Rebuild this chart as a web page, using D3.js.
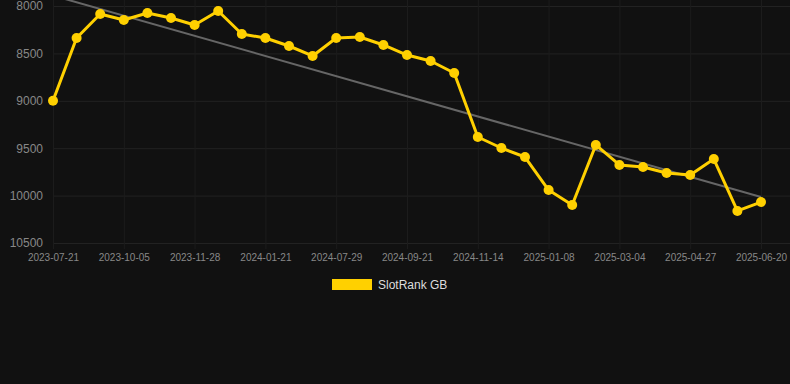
<!DOCTYPE html>
<html lang="en">
<head>
<meta charset="utf-8">
<title>SlotRank GB</title>
<script src="https://d3js.org/d3.v7.min.js"></script>
<style>
	body { margin: 0; background: #111111; }
	svg { display: block; }
</style>
</head>
<body>
<div id="chart"></div>
<script type="text/javascript">
	// data
	var dates = ['2023-07-21','2023-08-16','2023-09-10','2023-10-05','2023-10-23','2023-11-10','2023-11-28','2023-12-16','2024-01-03','2024-01-21',
		'2024-03-15','2024-05-20','2024-07-29','2024-08-15','2024-09-03','2024-09-21','2024-10-08','2024-10-27','2024-11-14','2024-12-02',
		'2024-12-20','2025-01-08','2025-01-26','2025-02-15','2025-03-04','2025-03-22','2025-04-09','2025-04-27','2025-05-15','2025-06-02','2025-06-20'];
	var ranks = [9000, 8338, 8084, 8148, 8074, 8127, 8200, 8053, 8295, 8338,
		8422, 8527, 8338, 8327, 8411, 8517, 8580, 8707, 9382, 9498,
		9593, 9941, 10099, 9466, 9677, 9698, 9762, 9783, 9614, 10162, 10068];
	var trend = [7890, 10015];
	var y_ticks = [8000, 8500, 9000, 9500, 10000, 10500];
	var series_name = 'SlotRank GB';

	var W = 790, H = 384;
	var margin = {top: 6, right: 29, bottom: 141, left: 53},
		width = W - margin.left - margin.right,
		height = H - margin.top - margin.bottom;

	var svg = d3.select('#chart').append('svg')
		.attr('width', W)
		.attr('height', H)
		.style('background', '#111111');

	var g = svg.append('g')
		.attr('transform', 'translate(' + margin.left + ',' + margin.top + ')');

	var x = d3.scalePoint()
		.domain(dates)
		.range([0, width]);
	var y = d3.scaleLinear()
		.domain([8000, 10500])
		.range([0, height]);

	var label_dates = dates.filter(function(d, i) { return i % 3 == 0; });

	// grid
	g.append('g').selectAll('line')
		.data(y_ticks)
		.enter().append('line')
		.attr('x1', 0).attr('x2', W - margin.left)
		.attr('y1', function(d) { return y(d) + 0.5; })
		.attr('y2', function(d) { return y(d) + 0.5; })
		.attr('stroke', '#222222').attr('stroke-width', 1);
	g.append('g').selectAll('line')
		.data(label_dates)
		.enter().append('line')
		.attr('x1', function(d) { return x(d) + 0.5; })
		.attr('x2', function(d) { return x(d) + 0.5; })
		.attr('y1', -margin.top).attr('y2', height)
		.attr('stroke', '#1c1c1c').attr('stroke-width', 1);

	// axes
	var yAxis = g.append('g')
		.call(d3.axisLeft(y).tickValues(y_ticks).tickSize(0).tickPadding(10).tickFormat(d3.format('d')));
	yAxis.select('.domain').remove();
	yAxis.selectAll('text')
		.attr('fill', '#888888')
		.style('font-family', 'Liberation Sans, Arial, sans-serif')
		.style('font-size', '12px');

	var xAxis = g.append('g')
		.attr('transform', 'translate(0,' + height + ')')
		.call(d3.axisBottom(x).tickValues(label_dates).tickSize(6).tickPadding(5));
	xAxis.select('.domain').remove();
	xAxis.selectAll('line').attr('stroke', '#1c1c1c');
	xAxis.selectAll('text')
		.attr('fill', '#888888')
		.style('font-family', 'Liberation Sans, Arial, sans-serif')
		.style('font-size', '10px');

	// trend line
	g.append('line')
		.attr('x1', x(dates[0])).attr('y1', y(trend[0]))
		.attr('x2', x(dates[dates.length - 1])).attr('y2', y(trend[1]))
		.attr('stroke', '#666666').attr('stroke-width', 2);

	// series
	var line = d3.line()
		.x(function(d, i) { return x(dates[i]); })
		.y(function(d) { return y(d); });
	g.append('path')
		.datum(ranks)
		.attr('fill', 'none')
		.attr('stroke', '#ffd000')
		.attr('stroke-width', 3)
		.attr('stroke-linejoin', 'round')
		.attr('d', line);
	g.append('g').selectAll('circle')
		.data(ranks)
		.enter().append('circle')
		.attr('cx', function(d, i) { return x(dates[i]); })
		.attr('cy', function(d) { return y(d); })
		.attr('r', 5)
		.attr('fill', '#ffd000');

	// legend
	var legend = svg.append('g').attr('transform', 'translate(332,279)');
	legend.append('rect')
		.attr('width', 40).attr('height', 11)
		.attr('fill', '#ffd000');
	legend.append('text')
		.attr('x', 46).attr('y', 10)
		.attr('fill', '#dddddd')
		.style('font-family', 'Liberation Sans, Arial, sans-serif')
		.style('font-size', '12px')
		.text(series_name);
</script>
</body>
</html>
